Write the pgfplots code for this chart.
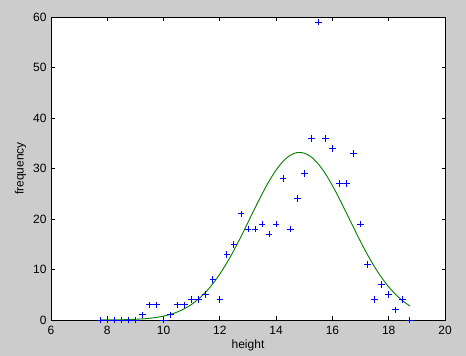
\documentclass[border=0pt]{standalone}
\usepackage{fontspec}
\setmainfont{Liberation Sans}
\usepackage{pgfplots}
\pgfplotsset{compat=1.18}
\definecolor{bggray}{RGB}{204,204,204}
\definecolor{mgreen}{RGB}{0,128,0}
\begin{document}
\begin{tikzpicture}[x=1pt,y=1pt]
\fill[bggray] (0,0) rectangle (466,356);
\useasboundingbox (0,0) rectangle (466,356);
\begin{axis}[
  at={(51pt,36pt)}, anchor=south west,
  scale only axis, width=394pt, height=303pt,
  xmin=6, xmax=20, ymin=0, ymax=60,
  xtick={6,8,...,20}, ytick={0,10,...,60},
  axis background/.style={fill=white},
  axis line style={black, line width=0.8pt},
  tick align=inside, major tick length=3.5pt,
  tick style={black, line width=0.8pt},
  /pgf/number format/assume math mode=true,
  tick label style={font=\fontsize{12}{14}\selectfont},
  xticklabel style={yshift=-3pt},
  yticklabel style={xshift=-1pt},
  label style={font=\fontsize{12}{14}\selectfont},
  xlabel={height}, ylabel={frequency},
  xlabel style={at={(axis description cs:0.5,-0.0957)}, anchor=base},
  ylabel style={at={(axis description cs:-0.0698,0.5)}, anchor=base},
]
\addplot[only marks, mark=+, mark size=3.3pt, blue, mark options={line width=0.9pt}] coordinates {
(7.75,0) (8,0) (8.25,0) (8.5,0) (8.75,0) (9,0) (9.25,1) (9.5,3) (9.75,3)
(10,0) (10.25,1) (10.5,3) (10.75,3) (11,4) (11.25,4) (11.5,5) (11.75,8)
(12,4) (12.25,13) (12.5,15) (12.75,21) (13,18) (13.25,18) (13.5,19) (13.75,17)
(14,19) (14.25,28) (14.5,18) (14.75,24) (15,29) (15.25,36) (15.5,59) (15.75,36)
(16,34) (16.25,27) (16.5,27) (16.75,33) (17,19) (17.25,11) (17.5,4) (17.75,7)
(18,5) (18.25,2) (18.5,4) (18.75,0)
};
\addplot[mgreen, line width=0.9pt, smooth] coordinates {
(7.75,0.01) (8,0.02) (8.25,0.03) (8.5,0.05) (8.75,0.08) (9,0.14) (9.25,0.22)
(9.5,0.34) (9.75,0.51) (10,0.77) (10.25,1.12) (10.5,1.61) (10.75,2.26) (11,3.11)
(11.25,4.19) (11.5,5.54) (11.75,7.18) (12,9.11) (12.25,11.34) (12.5,13.82)
(12.75,16.51) (13,19.34) (13.25,22.19) (13.5,24.95) (13.75,27.50) (14,29.71)
(14.25,31.44) (14.5,32.62) (14.75,33.17) (15,33.04) (15.25,32.27) (15.5,30.88)
(15.75,28.96) (16,26.62) (16.25,23.97) (16.5,21.16) (16.75,18.31) (17,15.52)
(17.25,12.90) (17.5,10.50) (17.75,8.38) (18,6.56) (18.25,5.03) (18.5,3.78)
(18.75,2.78)
};
\end{axis}
\end{tikzpicture}
\end{document}
